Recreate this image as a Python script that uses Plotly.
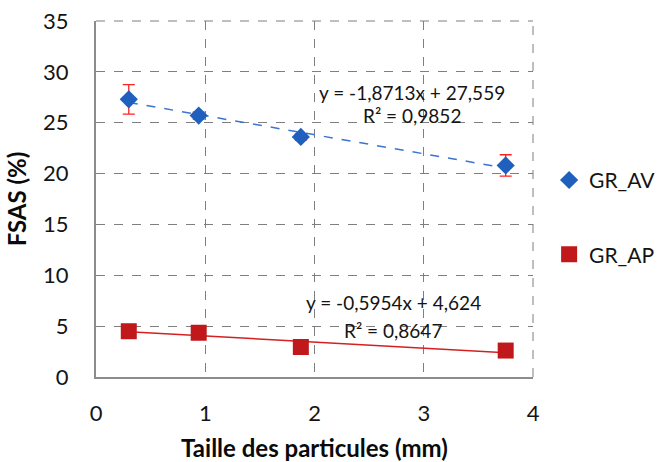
import numpy as np
import plotly.graph_objects as go

# Particle sizes (mm) and FSAS (%) for the two series
taille = [0.3, 0.94, 1.875, 3.75]
gr_av = [27.3, 25.7, 23.6, 20.8]
gr_av_err = [1.45, 0.35, 0.3, 1.05]
gr_ap = [4.5, 4.35, 2.95, 2.6]

# Linear trendlines (slope, intercept, R²)
av_fit = (-1.8713, 27.559, 0.9852)
ap_fit = (-0.5954, 4.624, 0.8647)

x_ticks = [0, 1, 2, 3, 4]
y_ticks = [0, 5, 10, 15, 20, 25, 30, 35]

FONT = "Lato, 'Open Sans', sans-serif"
BLUE = "#1F5FBE"
RED = "#C0181B"
TXT = "#141414"

fig = go.Figure()

xl = np.array([taille[0], taille[-1]])
fig.add_trace(go.Scatter(
    x=xl, y=av_fit[0] * xl + av_fit[1], mode="lines",
    line=dict(color="#3A74D0", width=1.5, dash="dash"),
    showlegend=False, hoverinfo="skip"))
fig.add_trace(go.Scatter(
    x=xl, y=ap_fit[0] * xl + ap_fit[1], mode="lines",
    line=dict(color="#D42020", width=1.5),
    showlegend=False, hoverinfo="skip"))

fig.add_trace(go.Scatter(
    x=taille, y=gr_av, mode="markers", name="GR_AV",
    marker=dict(symbol="diamond", size=14, color=BLUE),
    error_y=dict(type="data", array=gr_av_err, color="#FF2020",
                 thickness=1.3, width=6),
    legendgroup="av"))
fig.add_trace(go.Scatter(
    x=taille, y=gr_ap, mode="markers", name="GR_AP",
    marker=dict(symbol="square", size=16, color=RED),
    legendgroup="ap"))

def fit_label(fit, x, y, gap):
    s = f"{fit[0]:.4f}".replace(".", ",")
    b = f"{fit[1]:.3f}".replace(".", ",")
    r = f"{fit[2]:.4f}".replace(".", ",")
    fig.add_annotation(x=x, y=y, text=f"y = {s}x + {b}", showarrow=False,
                       font=dict(family=FONT, size=19, color=TXT))
    fig.add_annotation(x=x, y=y - gap, text=f"R² = {r}", showarrow=False,
                       font=dict(family=FONT, size=19, color=TXT))

fit_label(av_fit, 2.89, 28.0, 2.3)
fit_label(ap_fit, 2.72, 7.3, 2.75)

grid = dict(showgrid=True, gridcolor="#7f7f7f", griddash="dash", gridwidth=1,
            showline=True, linecolor="#8c8c8c", linewidth=2, zeroline=False,
            ticks="", tickfont=dict(family=FONT, size=22, color=TXT),
            automargin=False)

fig.update_xaxes(range=[0, 4], tickvals=x_ticks, ticklabelstandoff=16,
                 title=dict(text="<b>Taille des particules (mm)</b>",
                            font=dict(family=FONT, size=24, color="#0a0a0a"),
                            standoff=18),
                 **grid)
fig.update_yaxes(range=[0, 35], tickvals=y_ticks, ticklabelstandoff=21,
                 title=dict(text="<b>FSAS (%)</b>",
                            font=dict(family=FONT, size=24, color="#0a0a0a"),
                            standoff=10),
                 **grid)

# dashed frame on top and right
fig.add_shape(type="line", xref="paper", yref="paper", x0=0, x1=1, y0=1, y1=1,
              line=dict(color="#7f7f7f", width=1, dash="dash"))
fig.add_shape(type="line", xref="paper", yref="paper", x0=1, x1=1, y0=0, y1=1,
              line=dict(color="#7f7f7f", width=1, dash="dash"))

fig.update_layout(
    width=660, height=462,
    margin=dict(l=96, r=127, t=21, b=85, autoexpand=False),
    paper_bgcolor="white", plot_bgcolor="white",
    legend=dict(xref="container", yref="container", x=0.832, y=0.654,
                xanchor="left", yanchor="top",
                font=dict(family=FONT, size=21, color=TXT),
                tracegroupgap=44, itemwidth=30),
)

fig.write_html("out.html")
